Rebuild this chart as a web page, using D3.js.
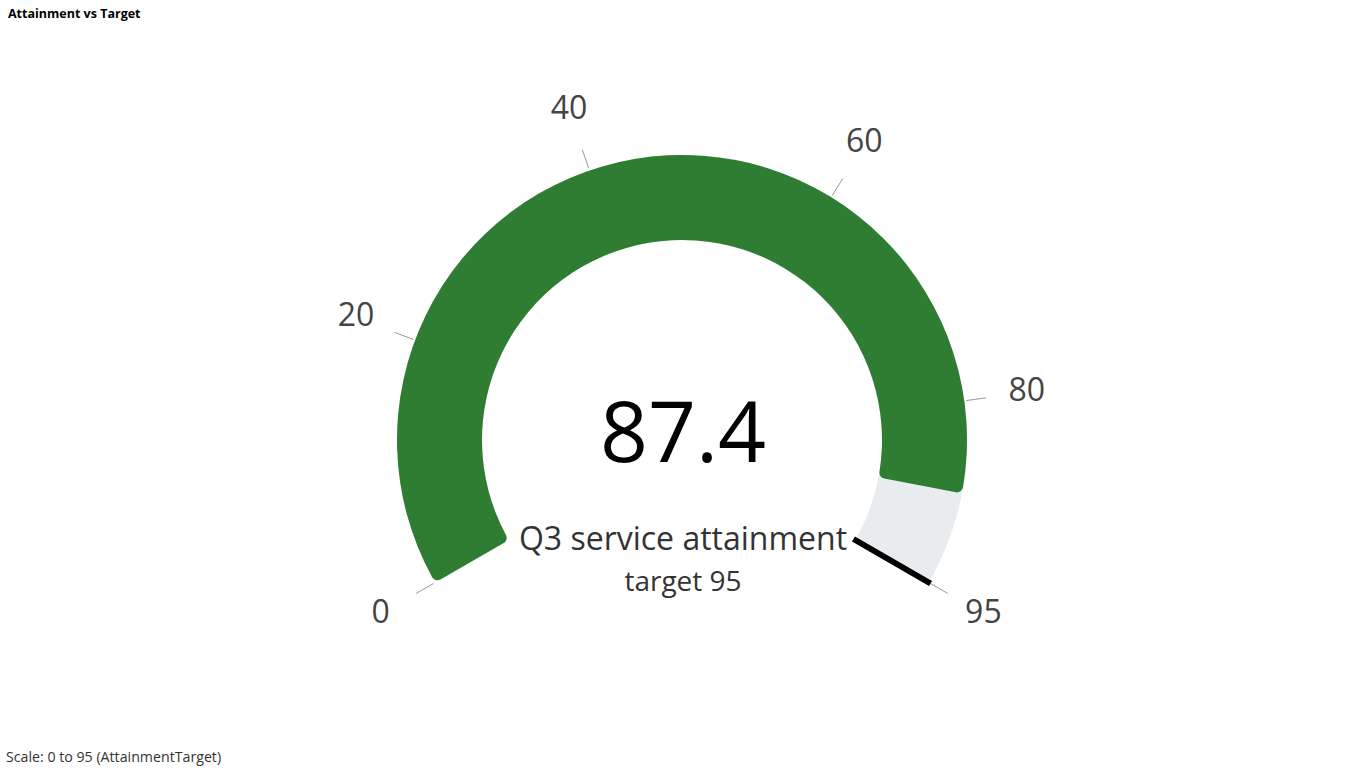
<!DOCTYPE html>
<html>
<head>
<meta charset="utf-8">
<script src="https://cdn.jsdelivr.net/npm/d3@7"></script>
<style>
  body { margin: 0; background: #fff; font-family: "Segoe UI", "Open Sans", "Noto Sans", sans-serif; }
</style>
</head>
<body>
<div id="chart"></div>
<script>
var title = "Attainment vs Target"
var footer = "Scale: 0 to 95 (AttainmentTarget)"
var label = "Q3 service attainment"
var scaleMin = 0
var scaleMax = 95
var value = 87.4
var target = 95
var ticks = [0, 20, 40, 60, 80, 95]

var w = 1366, h = 768
var cx = 682, cy = 440
var rOuter = 285, rInner = 200

var svg = d3.select("#chart").append("svg")
  .attr("width", w)
  .attr("height", h)

svg.append("text")
  .attr("x", 8).attr("y", 18)
  .style("font-size", "12.5px")
  .style("font-weight", "bold")
  .attr("fill", "#000")
  .text(title)

svg.append("text")
  .attr("x", 6).attr("y", 762)
  .style("font-size", "14.2px")
  .attr("fill", "#333")
  .text(footer)

var ang = d3.scaleLinear()
  .domain([scaleMin, scaleMax])
  .range([-2 * Math.PI / 3, 2 * Math.PI / 3])

var g = svg.append("g").attr("transform", "translate(" + cx + "," + cy + ")")

var arc = d3.arc()
  .innerRadius(rInner)
  .outerRadius(rOuter)
  .cornerRadius(6)

// track
g.append("path")
  .attr("d", arc({ startAngle: ang(scaleMin), endAngle: ang(scaleMax) }))
  .attr("fill", "#e9ecef")

// value
g.append("path")
  .attr("d", arc({ startAngle: ang(scaleMin), endAngle: ang(value) }))
  .attr("fill", "#2e7d32")

// ticks + labels
ticks.forEach(function(t){
  var a = ang(t)
  var s = Math.sin(a), c = -Math.cos(a)
  g.append("line")
    .attr("x1", s * (rOuter + 2)).attr("y1", c * (rOuter + 2))
    .attr("x2", s * (rOuter + 22)).attr("y2", c * (rOuter + 22))
    .attr("stroke", "#999")
    .attr("stroke-width", 1)
  g.append("text")
    .attr("x", s * 348).attr("y", c * 348 - 4)
    .attr("text-anchor", "middle")
    .attr("dominant-baseline", "central")
    .style("font-size", "32px")
    .attr("fill", "#444")
    .text(t)
})

// target marker
var ta = ang(target)
g.append("line")
  .attr("x1", Math.sin(ta) * (rInner - 2)).attr("y1", -Math.cos(ta) * (rInner - 2))
  .attr("x2", Math.sin(ta) * (rOuter + 2)).attr("y2", -Math.cos(ta) * (rOuter + 2))
  .attr("stroke", "#000")
  .attr("stroke-width", 6)

// center texts
g.append("text")
  .attr("x", 1).attr("y", 22)
  .attr("text-anchor", "middle")
  .style("font-size", "84px")
  .attr("fill", "#000")
  .text(value)

g.append("text")
  .attr("x", 1).attr("y", 110)
  .attr("text-anchor", "middle")
  .style("font-size", "32px")
  .attr("fill", "#333")
  .text(label)

g.append("text")
  .attr("x", 1).attr("y", 151)
  .attr("text-anchor", "middle")
  .style("font-size", "28px")
  .attr("fill", "#333")
  .text("target " + target)
</script>
</body>
</html>
